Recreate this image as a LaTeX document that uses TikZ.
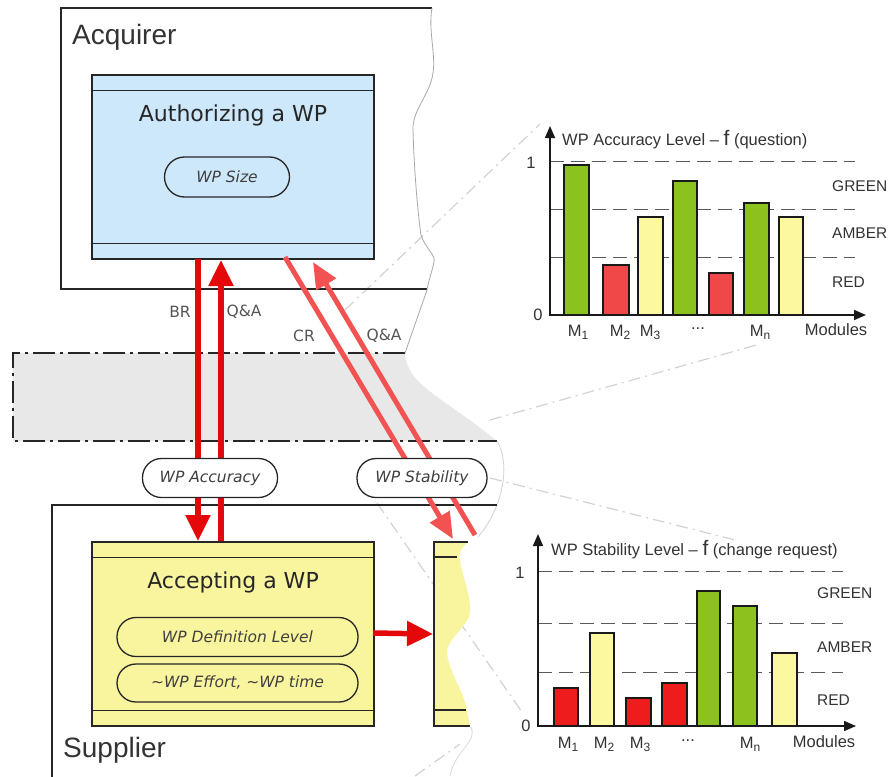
\documentclass[tikz,border=0pt]{standalone}
\usepackage{fontspec}
\setmainfont{DejaVu Sans}
\newfontfamily\arialf{Liberation Sans}
\usetikzlibrary{arrows.meta}
\definecolor{bluefill}{HTML}{CDE8FA}
\definecolor{yelfill}{HTML}{F9F49E}
\definecolor{barG}{HTML}{8CC21E}
\definecolor{barR}{HTML}{F04848}
\definecolor{barRb}{HTML}{EE1C1C}
\definecolor{barY}{HTML}{FBF8A0}
\definecolor{arrowred}{HTML}{E4080A}
\definecolor{arrowpink}{HTML}{F25252}
\definecolor{bandgray}{HTML}{E8E8E8}
\definecolor{leadergray}{HTML}{D2D2D2}
\definecolor{labelgray}{HTML}{555555}
\definecolor{tornc}{HTML}{A8A8A8}
\newcommand{\subnum}[1]{\raisebox{-0.35ex}{\fontsize{12}{12}\selectfont #1}}
\newcommand{\bigf}{{\fontsize{21}{21}\selectfont f}}
\tikzset{
  boxline/.style={draw=black!85, line width=1.3pt},
  procbox/.style={boxline, minimum width=282pt, minimum height=184pt, inner sep=0pt},
  pill/.style={boxline, line width=1.3pt, rounded corners=19pt, minimum height=39pt, inner sep=0pt,
    font=\fontsize{15.5}{17}\selectfont\itshape, text=black!75},
  bigarrow/.style={draw=arrowred, line width=5.5pt, -{Triangle[length=26pt,width=24pt]}},
  diagarrow/.style={draw=arrowpink, line width=5pt, -{Triangle[length=26pt,width=22pt]}},
  flowlabel/.style={font=\fontsize{15.5}{17}\selectfont, text=labelgray},
  bandline/.style={draw=black!85, line width=1.3pt, dash pattern=on 22pt off 5pt on 3pt off 5pt},
  leader/.style={draw=leadergray, line width=1.2pt, dash pattern=on 12pt off 5pt on 2pt off 5pt},
  tornline/.style={draw=tornc, line width=0.8pt},
  axisline/.style={draw=black!90, line width=1.5pt, -{Triangle[length=12pt,width=10pt]}},
  levelline/.style={draw=black!65, line width=1pt, dash pattern=on 14pt off 7pt},
  bar/.style={draw=black!90, line width=1.4pt},
  charttext/.style={font=\arialf\fontsize{16.5}{18}\selectfont, text=black!80},
  leveltext/.style={font=\arialf\fontsize{15.5}{18}\selectfont, text=black!80, anchor=west, inner sep=0pt},
  sidetext/.style={font=\arialf\fontsize{28}{32}\selectfont, text=black!80, anchor=base west, inner sep=0pt},
  titletext/.style={font=\fontsize{22}{25}\selectfont, text=black!85}
}
\begin{document}
\begin{tikzpicture}[x=1pt,y=-1pt]
\useasboundingbox (0,0) rectangle (890,776);

% ---- leader lines (behind everything)
\draw[leader] (345,310) -- (540,124);
\draw[leader] (490,420) -- (760,344);
\draw[leader] (490,478) -- (735,540);
\draw[leader] (377,503) -- (522,712);
\draw[leader] (415,776) -- (460,744);

% ---- grey band
\fill[bandgray] (13,353) -- (405,353) .. controls (407,385) and (440,395) .. (497,441) -- (13,441) -- cycle;
\draw[bandline] (405,353) -- (13,353) -- (13,441) -- (497,441);
\draw[tornline, draw=black!18] (497,441) .. controls (510,462) and (505,505) .. (478,537);

% ---- Acquirer frame
\draw[boxline] (432,8) -- (61,8) -- (61,289) -- (427,289);
\draw[tornline] (432,8) .. controls (428,30) and (436,55) .. (433,73)
  .. controls (430,95) and (412,110) .. (413,130)
  .. controls (414,170) and (418,215) .. (421,235)
  .. controls (425,248) and (436,255) .. (434,262)
  .. controls (432,272) and (428,282) .. (427,290) -- (405,353);
\node[sidetext] (acq) at (72,45) {Acquirer};

% ---- Authorizing box
\node[procbox, fill=bluefill] (auth) at (233,167) {};
\draw[boxline] ([yshift=-16pt]auth.north west) -- ([yshift=-16pt]auth.north east);
\draw[boxline] ([yshift=16pt]auth.south west) -- ([yshift=16pt]auth.south east);
\node[titletext] (authT) at (233,115) {Authorizing a WP};
\node[pill, fill=bluefill, minimum width=125pt, minimum height=40pt, rounded corners=20pt] (size) at (227,177) {WP Size};

% ---- Supplier frame
\draw[boxline] (497,505) -- (52,505) -- (52,780);
\node[sidetext] (sup) at (63,757) {Supplier};

% ---- Accepting box
\node[procbox, fill=yelfill] (acc) at (233,634) {};
\draw[boxline] ([yshift=-16pt]acc.north west) -- ([yshift=-16pt]acc.north east);
\draw[boxline] ([yshift=16pt]acc.south west) -- ([yshift=16pt]acc.south east);
\node[titletext] (accT) at (233,582) {Accepting a WP};
\node[pill, fill=yelfill, minimum width=241pt] (defl) at (237.5,637) {WP Definition Level};
\node[pill, fill=yelfill, minimum width=241pt, minimum height=38pt] (eff) at (237.5,683) {\textasciitilde WP Effort, \textasciitilde WP time};

% ---- narrow torn yellow box
\fill[yelfill] (434,542) -- (468,542) .. controls (462,548) and (458,552) .. (460,560)
  .. controls (462,575) and (472,600) .. (470,613)
  .. controls (468,625) and (448,640) .. (447,650)
  .. controls (446,665) and (462,690) .. (466,705) -- (470,726) -- (434,726) -- cycle;
\draw[boxline] (468,542) -- (434,542) -- (434,726) -- (470,726);
\draw[boxline] (434,557) -- (457,557);
\draw[boxline] (434,710) -- (466,710);
\coordinate (narrow) at (433,634);

% ---- arrows
\coordinate (brS) at (198,259);
\coordinate (brE) at (198,541);
\coordinate (qaS) at (221,541);
\coordinate (qaE) at (221,260);
\coordinate (crS) at (285,257);
\coordinate (crE) at (453,539);
\coordinate (qbS) at (475,535);
\coordinate (qbE) at (313,262);
\coordinate (hS) at (373,633);
\draw[bigarrow] (brS) -- (brE);
\draw[bigarrow] (qaS) -- (qaE);
\draw[diagarrow] (crS) -- (crE);
\draw[diagarrow] (qbS) -- (qbE);
\draw[bigarrow] (hS) -- (narrow);
\node[flowlabel] (lbr) at (180,312) {BR};
\node[flowlabel] (lqa) at (244,312) {Q\&A};
\node[flowlabel] (lcr) at (304,336) {CR};
\node[flowlabel] (lqb) at (384,336) {Q\&A};

% ---- pills in the band (over the arrows)
\node[pill, fill=white, minimum width=135pt] (acc1) at (210,478) {WP Accuracy};
\node[pill, fill=white, minimum width=130pt] (stab) at (422,478) {WP Stability};

% ---- bottom torn bit
\draw[tornline, draw=black!15] (470,726) .. controls (480,740) and (455,750) .. (450,776);

% ================= top chart
\foreach \yy in {161,209,257} \draw[levelline] (550,\yy) -- (855,\yy);
\foreach \xa/\xb/\tp/\cl in {564/589/165/barG, 603/629/265/barR, 638/663/217/barY, 673/697/181/barG, 709/733/273/barR, 744/769/203/barG, 779/803/217/barY}
  \draw[bar, fill=\cl] (\xa,315) rectangle (\xb,\tp);
\draw[axisline] (550,316) -- (550,126);
\draw[axisline] (549,315) -- (866,315);
\node[charttext, anchor=west, inner sep=0pt] at (562,140) {WP Accuracy Level – \bigf{} (question)};
\node[charttext] at (531,163) {1};
\node[charttext] at (538,315) {0};
\node[leveltext] at (832,186) {GREEN};
\node[leveltext] at (832,233) {AMBER};
\node[leveltext] at (832,282) {RED};
\node[charttext] at (578,332) {M\subnum{1}};
\node[charttext] at (620,332) {M\subnum{2}};
\node[charttext] at (650,332) {M\subnum{3}};
\node[charttext] at (698,329) {...};
\node[charttext] at (760,332) {M\subnum{n}};
\node[charttext] at (836,330) {Modules};

% ================= bottom chart
\foreach \yy in {571,623,672} \draw[levelline] (538,\yy) -- (843,\yy);
\foreach \xa/\xb/\tp/\cl in {554/578/688/barRb, 590/614/633/barY, 626/651/698/barRb, 662/687/683/barRb, 697/720/591/barG, 733/757/606/barG, 772/797/653/barY}
  \draw[bar, fill=\cl] (\xa,726) rectangle (\xb,\tp);
\draw[axisline] (538,727) -- (538,534);
\draw[axisline] (537,726) -- (856,726);
\node[charttext, anchor=west, inner sep=0pt] at (551,550) {WP Stability Level – \bigf{} (change request)};
\node[charttext] at (520,573) {1};
\node[charttext] at (526,726) {0};
\node[leveltext] at (817,593) {GREEN};
\node[leveltext] at (817,647) {AMBER};
\node[leveltext] at (817,700) {RED};
\node[charttext] at (568,744) {M\subnum{1}};
\node[charttext] at (604,744) {M\subnum{2}};
\node[charttext] at (640,744) {M\subnum{3}};
\node[charttext] at (688,741) {...};
\node[charttext] at (750,744) {M\subnum{n}};
\node[charttext] at (824,742) {Modules};
\end{tikzpicture}
\end{document}
